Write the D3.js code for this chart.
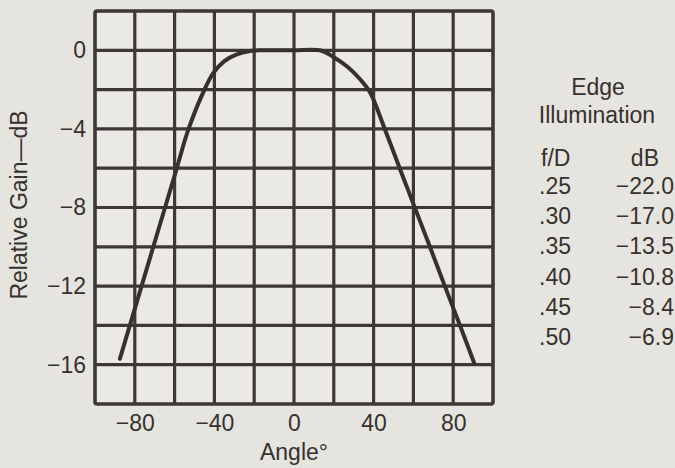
<!DOCTYPE html>
<html>
<head>
<meta charset="utf-8">
<script src="https://cdn.jsdelivr.net/npm/d3@7"></script>
<style>
  body { margin: 0; background: #e6e4df; }
  svg { display: block; }
  text { font-family: "Liberation Sans", Arial, sans-serif; fill: #36312e; }
</style>
</head>
<body>
<svg id="chart" width="675" height="468"></svg>
<script>
// antenna pattern
var angle = [-87.5, -82.5, -76.6, -70.7, -64.8, -58.9, -53, -45, -40.5, -35, -29, -22, -17, 0, 13, 20, 27, 33, 38, 45.6, 53.1, 60.7, 68.3, 75.8, 83.4, 90.5];
var gain  = [-15.7, -14, -12, -10, -8, -6, -4, -2, -1.15, -0.55, -0.22, -0.04, 0, 0, 0, -0.35, -0.85, -1.45, -2.1, -4, -6, -8, -10, -12, -14, -15.9];

var xTicks = [-80, -40, 0, 40, 80];
var yTicks = [0, -4, -8, -12, -16];

// edge illumination table
var fD = [0.25, 0.30, 0.35, 0.40, 0.45, 0.50];
var edgeDb = [-22.0, -17.0, -13.5, -10.8, -8.4, -6.9];

function load() {
  var svg = d3.select("#chart");
  var ink = "#3d3835";

  var x = d3.scaleLinear().domain([-100, 100]).range([95, 493]);
  var y = d3.scaleLinear().domain([2, -18]).range([11, 404]);

  // paper inside the frame is a touch lighter
  svg.append("rect")
    .attr("x", x(-100)).attr("y", y(2))
    .attr("width", x(100) - x(-100)).attr("height", y(-18) - y(2))
    .style("fill", "#ebe9e4");

  var g = svg.append("g");
  g.selectAll("line.vx")
    .data(d3.range(-80, 100, 20))
    .enter().append("line")
    .attr("x1", function(d) { return x(d); })
    .attr("x2", function(d) { return x(d); })
    .attr("y1", y(2)).attr("y2", y(-18))
    .style("stroke", ink).style("stroke-width", 3.2);

  g.selectAll("line.hy")
    .data(d3.range(0, -18, -2))
    .enter().append("line")
    .attr("y1", function(d) { return y(d); })
    .attr("y2", function(d) { return y(d); })
    .attr("x1", x(-100)).attr("x2", x(100))
    .style("stroke", ink).style("stroke-width", 3.2);

  g.append("rect")
    .attr("x", x(-100)).attr("y", y(2))
    .attr("width", x(100) - x(-100)).attr("height", y(-18) - y(2))
    .attr("rx", 2)
    .style("fill", "none").style("stroke", ink).style("stroke-width", 3.6);

  // the curve
  var pts = angle.map(function(a, i) { return [a, gain[i]]; });
  var line = d3.line()
    .x(function(d) { return x(d[0]); })
    .y(function(d) { return y(d[1]); })
    .curve(d3.curveCatmullRom.alpha(0.5));
  svg.append("path")
    .attr("d", line(pts))
    .style("fill", "none")
    .style("stroke", "#36312e")
    .style("stroke-width", 4)
    .style("stroke-linecap", "round");

  // axes (labels only, the grid does the rest)
  var xAxis = d3.axisBottom(x).tickValues(xTicks).tickSize(0).tickPadding(0);
  var ax = svg.append("g").attr("transform", "translate(0,431)").call(xAxis);
  ax.select(".domain").remove();
  ax.selectAll("text")
    .attr("dy", 0).attr("y", 0)
    .style("font-size", "23px").style("font-family", "Liberation Sans, Arial, sans-serif")
    .style("fill", "#36312e");

  var yAxis = d3.axisLeft(y).tickValues(yTicks).tickSize(0).tickPadding(0);
  var ay = svg.append("g").attr("transform", "translate(86,0)").call(yAxis);
  ay.select(".domain").remove();
  ay.selectAll("text")
    .attr("x", 0)
    .style("font-size", "23px").style("font-family", "Liberation Sans, Arial, sans-serif")
    .style("fill", "#36312e");

  svg.append("text")
    .attr("x", x(0)).attr("y", 460)
    .attr("text-anchor", "middle")
    .style("font-size", "23px")
    .text("Angle\u00b0");

  svg.append("text")
    .attr("transform", "translate(27,205) rotate(-90)")
    .attr("text-anchor", "middle")
    .style("font-size", "23px")
    .text("Relative Gain\u2014dB");

  // table on the right
  var t = svg.append("g").style("font-size", "23px");
  t.append("text").attr("x", 598).attr("y", 95).attr("text-anchor", "middle").text("Edge");
  t.append("text").attr("x", 597).attr("y", 123).attr("text-anchor", "middle").text("Illumination");
  t.append("text").attr("x", 541).attr("y", 166).text("f/D");
  t.append("text").attr("x", 659).attr("y", 166).attr("text-anchor", "end").text("dB");

  var row = d3.scaleLinear().domain([0, fD.length - 1]).range([194, 345]);
  var fmtF = d3.format(".2f"), fmtD = d3.format(".1f");
  t.selectAll("text.fd")
    .data(fD).enter().append("text")
    .attr("x", 539)
    .attr("y", function(d, i) { return row(i); })
    .text(function(d) { return fmtF(d).replace(/^0/, ""); });
  t.selectAll("text.db")
    .data(edgeDb).enter().append("text")
    .attr("x", 674)
    .attr("text-anchor", "end")
    .attr("y", function(d, i) { return row(i); })
    .text(function(d) { return fmtD(d); });
}

load();
</script>
</body>
</html>
